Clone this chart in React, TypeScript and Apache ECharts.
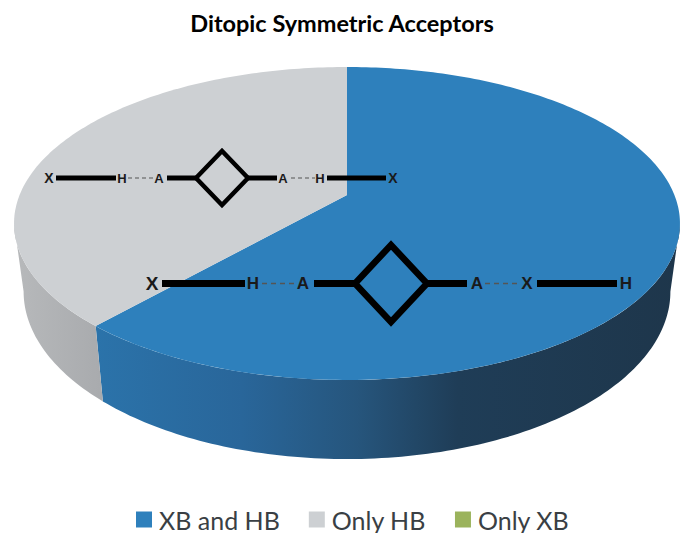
import React, { useEffect, useRef } from "react";
import * as echarts from "echarts";

const titleText = "Ditopic Symmetric Acceptors";
const categories = ["XB and HB", "Only HB", "Only XB"];
const values = [8, 5, 0];
const topColors = ["#2e80bc", "#cdd0d3", "#9bb35c"];

const TOTAL = values.reduce((a, b) => a + b, 0);
const DEG = Math.PI / 180;
const K = 0.182;
const TOP = { cx: 347, y0: 195, a: 327.4, b: 151.3 };
const BOTTOM = { cx: 347, y0: 261, a: 318, b: 162 };
// the side wall is only visible between the two silhouette angles
const WALL_FROM = 100.5;
const WALL_TO = 259.5;

function project(plane: typeof TOP, deg: number): number[] {
  const u = Math.sin(deg * DEG);
  const v = Math.cos(deg * DEG);
  const w = 1 + K * v;
  return [plane.cx + (plane.a * u) / w, plane.y0 - (plane.b * v) / w];
}

function arc(plane: typeof TOP, from: number, to: number): number[][] {
  const pts: number[][] = [];
  const steps = Math.max(2, Math.ceil(Math.abs(to - from)));
  for (let i = 0; i <= steps; i++) pts.push(project(plane, from + ((to - from) * i) / steps));
  return pts;
}

const blueWall = {
  type: "linear", x: 95, y: 0, x2: 680, y2: 0, global: true,
  colorStops: [
    { offset: 0, color: "#2b73aa" },
    { offset: 0.25, color: "#29669a" },
    { offset: 0.45, color: "#26557c" },
    { offset: 0.62, color: "#1f3d57" },
    { offset: 1, color: "#1e364b" },
  ],
};
const greyWall = {
  type: "linear", x: 20, y: 0, x2: 100, y2: 0, global: true,
  colorStops: [
    { offset: 0, color: "#b6b8ba" },
    { offset: 1, color: "#a9abae" },
  ],
};
const wallFills: any[] = [blueWall, greyWall, "#7d8f49"];

function renderSlice(params: any, api: any) {
  const idx = params.seriesIndex;
  const value = api.value(0);
  if (!value) return null;
  const before = values.slice(0, idx).reduce((a, b) => a + b, 0);
  const start = (before / TOTAL) * 360;
  const end = ((before + value) / TOTAL) * 360;
  const children: any[] = [];
  const wallStart = Math.max(start, WALL_FROM);
  const wallEnd = Math.min(end, WALL_TO);
  if (wallEnd > wallStart) {
    children.push({
      type: "polygon",
      shape: { points: [...arc(TOP, wallStart, wallEnd), ...arc(BOTTOM, wallEnd, wallStart)] },
      style: { fill: wallFills[idx] },
    });
  }
  children.push({
    type: "polygon",
    shape: { points: [[TOP.cx, TOP.y0], ...arc(TOP, start, end)] },
    style: { fill: topColors[idx] },
    z2: 5,
  });
  return { type: "group", children };
}

function bond(x1: number, x2: number, y: number, w: number) {
  return { type: "line", z: 10, shape: { x1, y1: y, x2, y2: y }, style: { stroke: "#000", lineWidth: w } };
}
function dash(x1: number, x2: number, y: number, w: number, d: number[]) {
  return { type: "line", z: 10, shape: { x1, y1: y, x2, y2: y }, style: { stroke: "#555", lineWidth: w, lineDash: d } };
}
function atom(t: string, x: number, y: number, size: number) {
  return {
    type: "text", z: 10, x, y,
    style: {
      text: t, fill: "#1a1a1a", font: `bold ${size}px "Liberation Sans", Arial, sans-serif`,
      textAlign: "center", textVerticalAlign: "middle",
    },
  };
}
function ring(cx: number, cy: number, rx: number, ry: number, w: number) {
  return {
    type: "polygon", z: 10,
    shape: { points: [[cx - rx, cy], [cx, cy - ry], [cx + rx, cy], [cx, cy + ry]] },
    style: { fill: "none", stroke: "#000", lineWidth: w, lineJoin: "miter" },
  };
}

const upperY = 178;
const lowerY = 283.5;
const diagram: any[] = [
  atom("X", 49, upperY, 14), bond(56, 116, upperY, 5), atom("H", 122, upperY, 13),
  dash(128, 153, upperY, 1.2, [4, 3]), atom("A", 159, upperY, 13), bond(167, 196, upperY, 5),
  ring(222, upperY, 26, 27, 4.5), bond(248, 277, upperY, 5), atom("A", 283, upperY, 13),
  dash(291, 315, upperY, 1.2, [4, 3]), atom("H", 320, upperY, 13), bond(327, 386, upperY, 5),
  atom("X", 393, upperY, 14),
  atom("X", 152, lowerY, 19), bond(162, 245, lowerY, 7), atom("H", 253, lowerY, 17),
  dash(262, 295, lowerY, 1.4, [5, 4]), atom("A", 303, lowerY, 17), bond(314, 355, lowerY, 7),
  ring(391, lowerY, 36, 38.5, 6.5), bond(427, 467, lowerY, 7), atom("A", 477, lowerY, 17),
  dash(485, 520, lowerY, 1.4, [5, 4]), atom("X", 527, lowerY, 17), bond(537, 617, lowerY, 7),
  atom("H", 626, lowerY, 17),
];

export default function App() {
  const ref = useRef<HTMLDivElement>(null);
  useEffect(() => {
    document.body.style.margin = "0";
    const chart = echarts.init(ref.current!, undefined, { renderer: "svg" });
    chart.setOption({
      animation: false,
      backgroundColor: "#fff",
      title: {
        text: titleText,
        left: "center",
        top: 6,
        textStyle: { fontFamily: "Lato", fontWeight: "bold", fontSize: 23.5, color: "#000" },
      },
      legend: {
        data: categories,
        left: 131,
        top: 502,
        itemWidth: 16,
        itemHeight: 16,
        itemGap: 29,
        icon: "rect",
        textStyle: { fontFamily: "Lato", fontSize: 25, color: "#3a3f44", padding: [0, 0, 0, 2] },
      },
      series: categories.map((name, i) => ({
        type: "custom",
        name,
        coordinateSystem: "none",
        renderItem: renderSlice,
        itemStyle: { color: topColors[i] },
        data: [{ name, value: [values[i]] }],
        silent: true,
      })),
      graphic: { elements: diagram },
    });
    return () => chart.dispose();
  }, []);
  return <div ref={ref} style={{ width: 684, height: 533, overflow: "hidden" }} />;
}
